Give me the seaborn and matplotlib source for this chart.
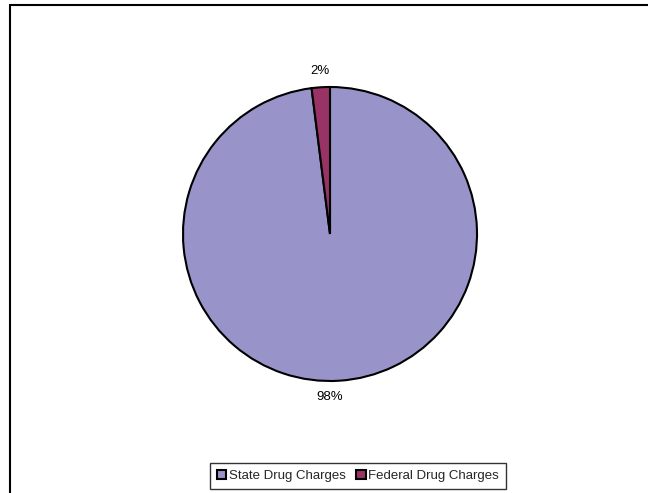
import matplotlib
matplotlib.use("Agg")
import matplotlib.pyplot as plt
from matplotlib.patches import Rectangle
import seaborn as sns

labels = ['State Drug Charges', 'Federal Drug Charges']
shares = [98, 2]
colors = ['#9894C9', '#993366']

sns.set_theme(style='white')
plt.rcParams['font.family'] = ['Liberation Sans', 'DejaVu Sans']

W, H = 648, 493
fig = plt.figure(figsize=(W / 100, H / 100), dpi=100)

# pie geometry (pixels)
cx, cy, r = 330, 234, 147
lim = 1.25
half = r * lim
ax = fig.add_axes([(cx - half) / W, (H - cy - half) / H, 2 * half / W, 2 * half / H])

wedges, texts, autotexts = ax.pie(
    shares, colors=colors, startangle=90, counterclock=False,
    autopct='%1.0f%%', pctdistance=1.11,
    wedgeprops=dict(edgecolor='black', linewidth=1.5),
    textprops=dict(fontsize=9.5, color='black'))
# Excel centres the big slice's label under the pie
autotexts[0].set_x(0)
ax.set_xlim(-lim, lim)
ax.set_ylim(-lim, lim)
ax.set_aspect('equal')
ax.axis('off')

leg = fig.legend(wedges, labels, loc='center', bbox_to_anchor=(358 / W, 1 - 476 / H),
                 ncol=2, fontsize=9.5, frameon=True, fancybox=False,
                 handlelength=0.7, handleheight=0.7, handletextpad=0.2,
                 columnspacing=0.8, borderpad=0.5)
leg.get_frame().set_edgecolor('black')
leg.get_frame().set_linewidth(1.0)

# outer chart border (cropped at right and bottom)
fig.patches.append(Rectangle((10 / W, -0.05), 1.1, 1 - 5 / H + 0.05,
                             transform=fig.transFigure, fill=False,
                             edgecolor='black', linewidth=1.5))

fig.savefig('out.png', dpi=100, facecolor='white')
